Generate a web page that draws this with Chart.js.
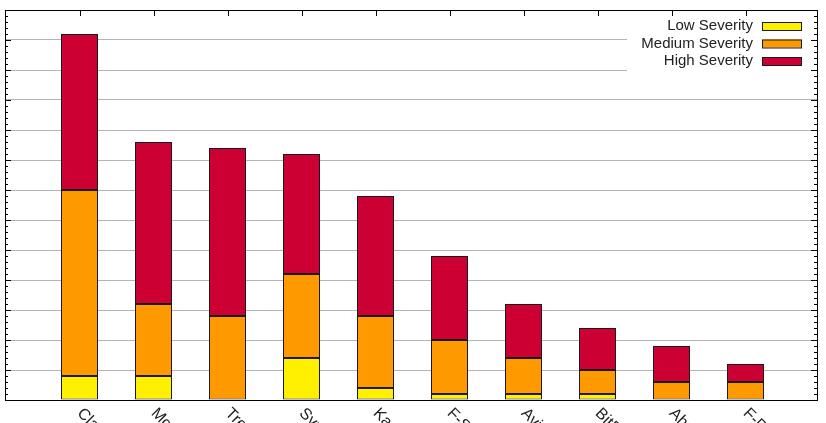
<!DOCTYPE html>
<html>
<head>
<meta charset="utf-8">
<script src="https://cdn.jsdelivr.net/npm/chart.js@4"></script>
<style>
  html, body { margin: 0; padding: 0; background: #fff; overflow: hidden; }
  #wrap { width: 826px; height: 423px; position: relative; }
</style>
</head>
<body>
<div id="wrap"><canvas id="severityChart"></canvas></div>
<script>
const products = ["ClamAV", "McAfee", "Trend Micro", "Symantec", "Kaspersky",
  "F-Secure", "Avira", "BitDefender", "AhnLab", "F-Prot"];
const lowSeverity = [4, 4, 0, 7, 2, 1, 1, 1, 0, 0];
const mediumSeverity = [31, 12, 14, 14, 12, 9, 6, 4, 3, 3];
const highSeverity = [26, 27, 28, 20, 20, 14, 9, 7, 6, 3];

const yMax = 65;
const yMajor = 5;
const yMinor = 1;

const FONT = "'Liberation Sans', Arial, sans-serif";
const EDGE = "#1a1a1a";

// gnuplot-like frame, inward tics, rotated labels and the key
const gnuplotLook = {
  id: "gnuplotLook",
  afterDatasetsDraw(chart) {
    const { ctx, chartArea: a } = chart;
    const x = chart.scales.x;
    const y = chart.scales.y;

    // key background hides grid lines
    ctx.save();
    ctx.fillStyle = "#fff";
    ctx.fillRect(a.right - 190, a.top, 190, 62);

    ctx.strokeStyle = "#000";
    ctx.lineWidth = 1;
    ctx.beginPath();
    for (let v = 0; v <= yMax; v += yMinor) {
      const py = Math.round(y.getPixelForValue(v)) + 0.5;
      const len = v % yMajor === 0 ? 6 : 3;
      ctx.moveTo(a.left, py);
      ctx.lineTo(a.left + len, py);
      ctx.moveTo(a.right, py);
      ctx.lineTo(a.right - len, py);
    }
    products.forEach((p, i) => {
      const px = Math.round(x.getPixelForValue(i)) + 0.5;
      ctx.moveTo(px, a.top);
      ctx.lineTo(px, a.top + 6);
    });
    ctx.stroke();
    ctx.strokeRect(Math.round(a.left) + 0.5, Math.round(a.top) + 0.5,
      Math.round(a.right - a.left), Math.round(a.bottom - a.top));

    // category labels, rotated by -45 in gnuplot terms
    ctx.fillStyle = "#222";
    ctx.font = "16px " + FONT;
    ctx.textAlign = "left";
    ctx.textBaseline = "middle";
    products.forEach((p, i) => {
      ctx.save();
      ctx.translate(x.getPixelForValue(i), a.bottom + 11);
      ctx.rotate(Math.PI / 4);
      ctx.fillText(p, 0, 0);
      ctx.restore();
    });

    // key
    ctx.font = "15px " + FONT;
    ctx.textAlign = "right";
    chart.data.datasets.forEach((ds, i) => {
      const ry = a.top + 16 + i * 17.5;
      ctx.fillStyle = "#222";
      ctx.fillText(ds.label, a.right - 64, ry);
      ctx.fillStyle = ds.backgroundColor;
      ctx.fillRect(a.right - 55, ry - 4, 40, 8);
      ctx.strokeStyle = EDGE;
      ctx.strokeRect(a.right - 54.5, ry - 3.5, 39, 8);
    });
    ctx.restore();
  },
};

document.addEventListener("DOMContentLoaded", () => {
  const ctx = document.getElementById("severityChart").getContext("2d");

  const segment = (label, values, color) => ({
    label: label,
    data: values.map((v, i) => ({ x: i, y: v })),
    backgroundColor: color,
    borderColor: EDGE,
    borderWidth: 1,
    borderSkipped: false,
    barPercentage: 0.5,
    categoryPercentage: 1,
  });

  new Chart(ctx, {
    type: "bar",
    data: {
      datasets: [
        segment("Low Severity", lowSeverity, "#fff000"),
        segment("Medium Severity", mediumSeverity, "#ff9900"),
        segment("High Severity", highSeverity, "#cc0033"),
      ],
    },
    options: {
      responsive: true,
      maintainAspectRatio: false,
      animation: false,
      layout: { padding: { left: 5, top: 10, right: 9, bottom: 0 } },
      plugins: {
        legend: { display: false },
        tooltip: { enabled: false },
      },
      scales: {
        x: {
          type: "linear",
          stacked: true,
          offset: false,
          min: -1.0068,
          max: 9.966,
          grid: { display: false },
          border: { display: false },
          ticks: { display: false },
          afterFit: (s) => { s.height = 23; },
        },
        y: {
          stacked: true,
          min: 0,
          max: yMax,
          ticks: { display: false, stepSize: yMajor },
          grid: { color: "#b4b4b4", lineWidth: 1, drawTicks: false },
          border: { display: false },
          afterFit: (s) => { s.width = 0; },
        },
      },
    },
    plugins: [gnuplotLook],
  });
});
</script>
</body>
</html>
